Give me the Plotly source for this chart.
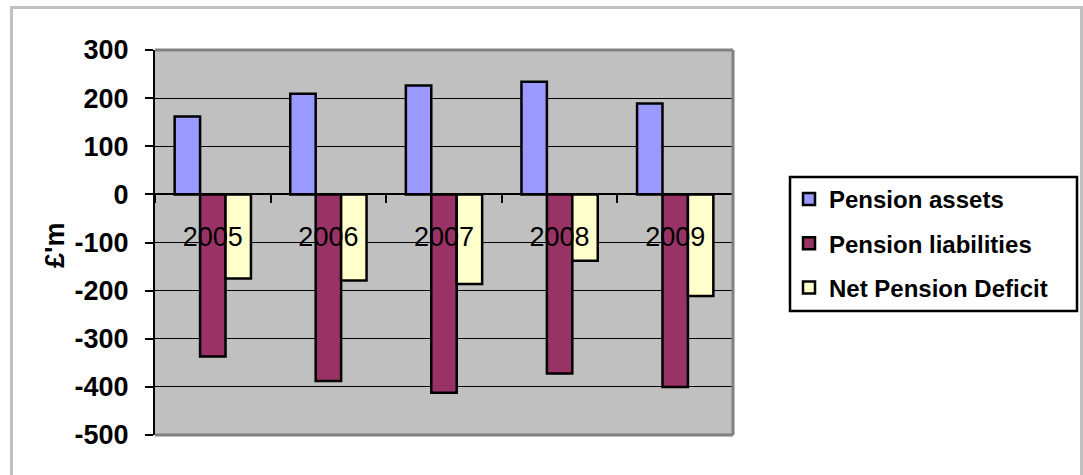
import plotly.graph_objects as go

years = ["2005", "2006", "2007", "2008", "2009"]
pension_assets = [162, 209, 226, 234, 189]
pension_liabilities = [-337, -388, -412, -372, -400]
net_pension_deficit = [-175, -179, -186, -138, -211]

series_names = ["Pension assets", "Pension liabilities", "Net Pension Deficit"]
series_values = [pension_assets, pension_liabilities, net_pension_deficit]
series_colors = ["#9999FF", "#993366", "#FFFFCC"]
y_ticks = [300, 200, 100, 0, -100, -200, -300, -400, -500]

W, H = 1083, 475
L, R, T, B = 155, 350, 50, 40
PW, PH = W - L - R, H - T - B


def px_x(px):
    return (px - L) / PW


def px_y(py):
    return (H - B - py) / PH


FONT = "Liberation Sans, Arial, sans-serif"

fig = go.Figure()
for name, vals, col in zip(series_names, series_values, series_colors):
    fig.add_trace(go.Bar(
        x=years, y=vals, name=name, legendgroup=name,
        marker=dict(color=col, line=dict(color="black", width=2.5)),
    ))

fig.update_layout(
    width=W, height=H,
    margin=dict(l=L, r=R, t=T, b=B, pad=0),
    paper_bgcolor="white",
    plot_bgcolor="#C0C0C0",
    barmode="group",
    bargap=0.34,
    bargroupgap=0,
    showlegend=True,
    legend=dict(
        x=px_x(789), y=px_y(177), xanchor="left", yanchor="top",
        bgcolor="rgba(0,0,0,0)", borderwidth=0,
        font=dict(family=FONT, size=24, color="black", weight="bold"),
        traceorder="grouped", tracegroupgap=10,
    ),
    xaxis=dict(
        type="category",
        anchor="free", position=0.625,
        showline=True, linecolor="black", linewidth=2,
        ticks="outside", tickson="boundaries", ticklen=8, tickwidth=1.5, tickcolor="black",
        tickfont=dict(family=FONT, size=27, color="black"),
        ticklabelstandoff=18,
        showgrid=False, zeroline=False,
        layer="above traces",
    ),
    yaxis=dict(
        range=[-500, 300],
        tickvals=y_ticks,
        ticktext=[str(v) for v in y_ticks],
        showline=True, linecolor="black", linewidth=2,
        ticks="outside", ticklen=8, tickwidth=2, tickcolor="black",
        tickfont=dict(family=FONT, size=27, color="black", weight="bold"),
        ticklabelstandoff=11,
        showgrid=True, gridcolor="black", gridwidth=1,
        zeroline=False,
    ),
)

shapes = [
    # outer chart frame
    dict(type="rect", xref="paper", yref="paper",
         x0=px_x(11.5), x1=px_x(1081.5), y0=px_y(495), y1=px_y(7.5),
         line=dict(color="#C0C0C0", width=3), layer="below"),
    # plot area border (top, right, bottom)
    dict(type="line", xref="paper", yref="paper", x0=0, x1=1, y0=1, y1=1,
         line=dict(color="#808080", width=3), layer="above"),
    dict(type="line", xref="paper", yref="paper", x0=1, x1=1, y0=0, y1=1,
         line=dict(color="#808080", width=3), layer="above"),
    dict(type="line", xref="paper", yref="paper", x0=0, x1=1, y0=0, y1=0,
         line=dict(color="#808080", width=3), layer="above"),
    # legend box
    dict(type="rect", xref="paper", yref="paper",
         x0=px_x(790), x1=px_x(1077), y0=px_y(311), y1=px_y(177),
         line=dict(color="black", width=2.5), fillcolor="white", layer="below"),
]
fig.update_layout(shapes=shapes)

fig.add_annotation(
    text="£'m", xref="paper", yref="paper",
    x=px_x(55), y=px_y(246), xanchor="center", yanchor="middle",
    textangle=-90, showarrow=False,
    font=dict(family=FONT, size=27, color="black", weight="bold"),
)

fig.write_html("out.html")
